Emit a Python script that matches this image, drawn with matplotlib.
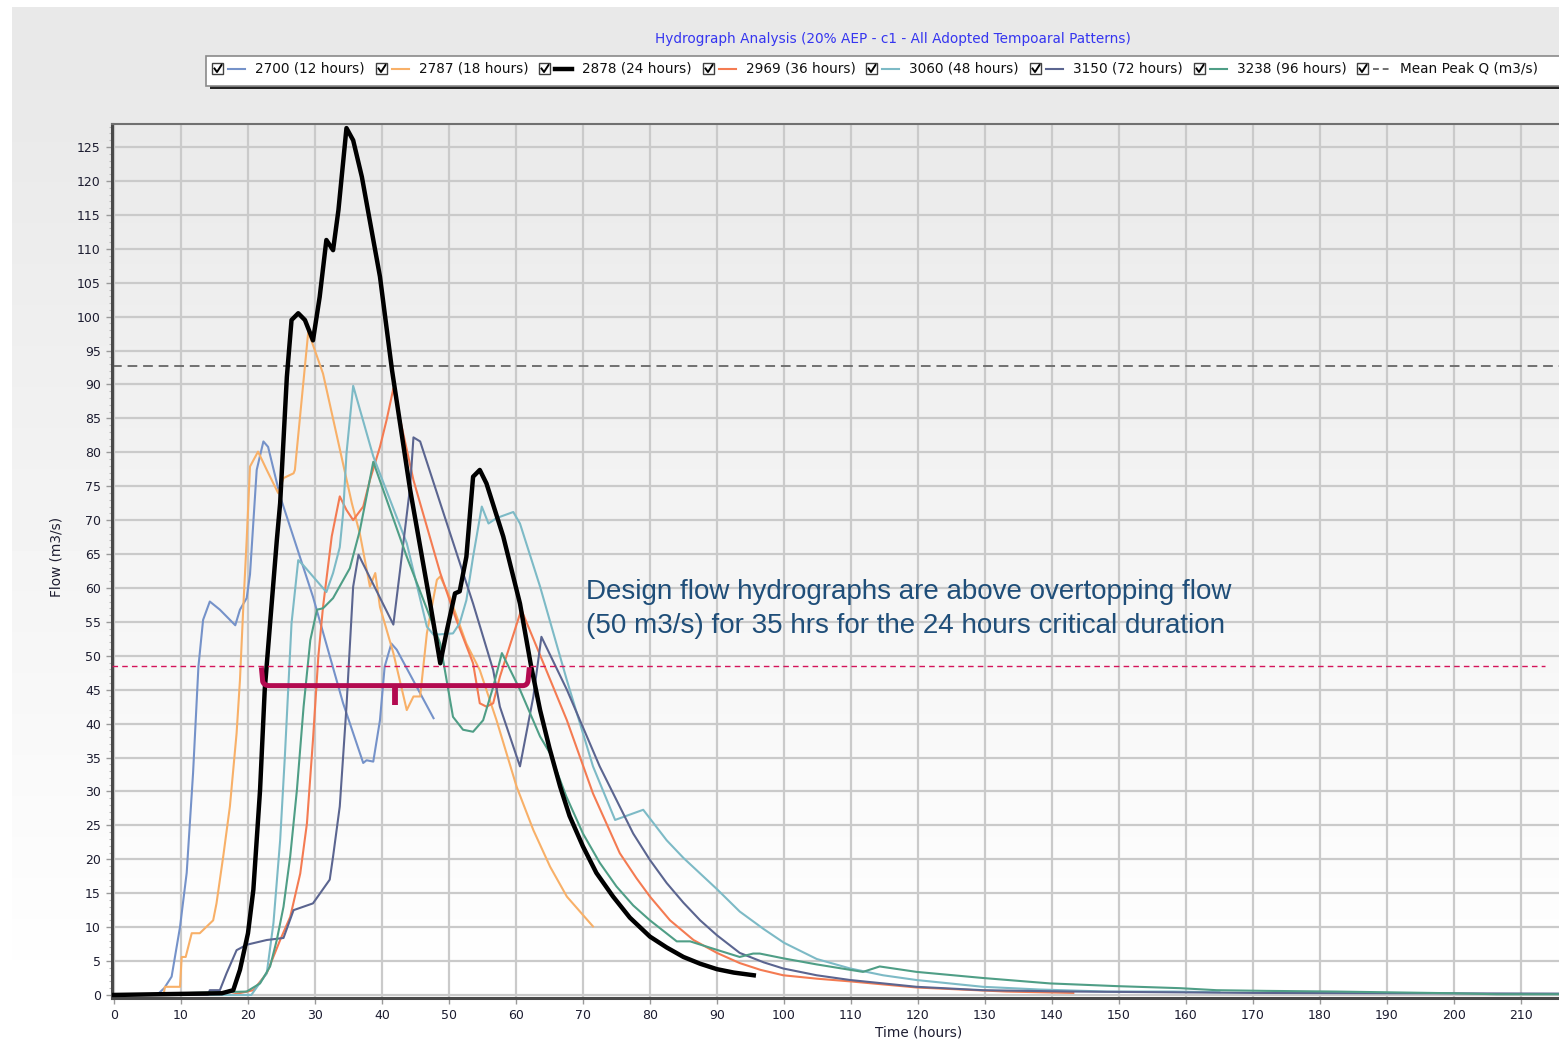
import numpy as np
import matplotlib
matplotlib.use("Agg")
import matplotlib.pyplot as plt
from matplotlib.patches import Rectangle, PathPatch
from matplotlib.path import Path
from matplotlib.lines import Line2D
from matplotlib.transforms import Affine2D
from matplotlib.ticker import MultipleLocator

W, H = 1559, 1047

# --- hydrograph data (time in hours, flow in m3/s) ---
t_12h = [0, 6.4, 7.5, 8.6, 9.85, 10.85, 11.8, 12.6, 13.3, 14.3, 15.8, 18.1, 18.8, 19.8, 20.3, 21.3,
         22.3, 23.0, 24.8, 29.7, 34.2, 37.2, 37.7, 38.7, 39.7, 40.4, 41.4, 42.2, 47.7]
q_12h = [0, 0, 1.0, 2.7, 10, 18, 32.7, 48.4, 55.3, 58, 56.8, 54.5, 56.8, 58.5, 62, 77.4,
         81.6, 80.8, 73.5, 58.7, 43, 34.2, 34.6, 34.4, 40.5, 48.4, 51.8, 50.9, 40.8]

t_18h = [0, 7.4, 7.6, 9.85, 10.1, 10.7, 11.6, 12.8, 14.8, 15.3, 16.3, 17.3, 18.3, 18.8, 19.3, 19.8,
         20.3, 21.5, 22.8, 24.5, 25.3, 26.8, 27.0, 29.0, 31.2, 35.5, 36.7, 38.2, 39.0, 39.7, 41.7,
         43.7, 44.7, 45.7, 46.7, 48.2, 48.7, 50.1, 52.6, 54.6, 57.1, 60.1, 62.6, 65.1, 67.6, 71.5]
q_18h = [0, 0, 1.2, 1.2, 5.6, 5.6, 9.1, 9.1, 11, 13.5, 20.4, 27.8, 38.6, 46.4, 57.2, 67,
         77.9, 80.1, 77.4, 74, 76.2, 76.9, 77.4, 97.8, 91.6, 72.5, 68, 60.2, 62.2, 57.2, 50.4,
         42, 44, 44, 53.3, 61.2, 61.7, 58.7, 51.8, 47.9, 40.5, 30.7, 24.3, 18.9, 14.5, 10.1]

t_24h = [0, 16.1, 17.8, 18.8, 20.0, 20.8, 21.8, 22.5, 23.3, 24.3, 24.8, 25.8, 26.5, 27.5, 28.5,
         29.7, 30.7, 31.7, 32.7, 33.5, 34.7, 35.7, 37.0, 39.7, 41.5, 44.2, 47.2, 48.7, 49.7, 50.9,
         51.6, 52.6, 53.6, 54.6, 55.6, 58.1, 60.6, 62.2, 63.6, 65.0, 66.6, 68.0, 70.0, 72.0, 74.5,
         77.0, 80, 82.5, 85, 87.5, 90, 92.5, 95.5]
q_24h = [0, 0.25, 0.7, 3.7, 9.1, 15.5, 30.2, 45, 54.8, 67, 72.5, 91.1, 99.5, 100.5, 99.5,
         96.5, 102.9, 111.3, 109.8, 115.7, 127.8, 126, 120.6, 105.9, 92.1, 74.5, 57.7, 48.9, 53.8, 59.2,
         59.5, 64.6, 76.4, 77.4, 75.4, 67.6, 57.7, 48.8, 42, 36.4, 30.7, 26.4, 21.9, 18.0, 14.5,
         11.4, 8.6, 7.0, 5.6, 4.6, 3.8, 3.3, 2.9]

t_36h = [0, 17.5, 20.8, 22.8, 24.8, 26.3, 27.8, 28.8, 29.7, 30.5, 31.2, 32.5, 33.7, 34.7, 35.7,
         37.2, 38.2, 39.7, 40.7, 41.7, 44.7, 48.7, 51.1, 53.6, 54.6, 55.6, 56.6, 57.6, 60.8, 63.6,
         67.6, 71.5, 75.5, 78.0, 80, 83.0, 86.5, 90.0, 93.4, 96.5, 99.9, 104.9, 109.9, 119.8,
         133.2, 143.2]
q_36h = [0, 0, 0.7, 3.2, 8.1, 11.5, 17.9, 25.3, 37.6, 49.9, 57.2, 67.6, 73.5, 71.5, 70,
         72, 75.9, 80.8, 84.8, 89.4, 75.9, 62.2, 55.3, 48.9, 43, 42.5, 43, 46.9, 56.8, 50.1,
         40.5, 29.7, 20.9, 17.2, 14.5, 11.0, 8.1, 6.2, 4.7, 3.7, 2.9, 2.4, 2.0, 1.1,
         0.5, 0.3]

t_48h = [0, 20.5, 22.8, 23.8, 24.8, 25.5, 26.0, 26.5, 27.5, 28.3, 31.7, 32.7, 33.7, 34.2, 34.7,
         35.7, 38.7, 43.7, 46.7, 47.7, 50.6, 51.6, 52.6, 53.6, 54.9, 55.9, 57.1, 59.6, 60.6, 63.6,
         67.6, 71.5, 74.8, 79.0, 82.5, 85.0, 87.5, 90.0, 93.4, 97.0, 100.0, 104.9, 109.9, 114.8,
         119.8, 129.7, 138.2, 148.2, 158.1, 165]
q_48h = [0, 0, 3.2, 10.6, 22.8, 35.1, 45, 54.8, 64.1, 63.3, 59.4, 62.2, 66, 71, 79.8,
         89.8, 79.4, 66.6, 54.3, 53.1, 53.3, 54.8, 58.2, 64.6, 72, 69.5, 70.3, 71.2, 69.5, 60.2,
         46.4, 33.7, 25.8, 27.3, 22.8, 20.2, 17.9, 15.6, 12.3, 9.7, 7.7, 5.3, 3.9, 2.9,
         2.2, 1.2, 0.8, 0.5, 0.5, 0.4]

t_72h = [0, 14.0, 14.3, 15.8, 16.8, 18.3, 19.8, 22.8, 25.3, 26.8, 29.7, 32.2, 32.7, 33.7, 34.7,
         35.7, 36.5, 41.7, 42.7, 44.2, 44.7, 45.7, 48.7, 53.6, 56.6, 57.6, 60.6, 62.6, 63.8, 67.6,
         72.5, 77.5, 80.0, 82.5, 85.0, 87.5, 90.0, 93.4, 97.0, 99.9, 104.9, 109.9, 119.8, 129.7,
         143.2, 170, 215.7]
q_72h = [0, 0, 0.7, 0.7, 3.2, 6.6, 7.4, 8.1, 8.4, 12.5, 13.5, 17, 20.4, 27.8, 42.5,
         60.2, 64.9, 54.6, 62.6, 74.9, 82.2, 81.6, 72.5, 57.7, 47.9, 42.5, 33.7, 44, 52.8, 45,
         33.7, 23.8, 19.9, 16.5, 13.6, 11.0, 8.8, 6.2, 4.8, 3.9, 2.9, 2.2, 1.2, 0.7,
         0.5, 0.3, 0.2]

t_96h = [0, 19.8, 21.8, 23.3, 24.3, 25.3, 26.3, 27.3, 28.3, 29.3, 30.3, 31.2, 32.7, 35.2, 36.7,
         37.7, 38.7, 43.7, 48.7, 50.6, 52.1, 53.6, 55.1, 56.6, 57.9, 60.6, 63.6, 65.1, 67.5, 70,
         72.5, 75, 77.5, 80, 84, 86, 89.5, 93.4, 95.4, 96.4, 99.9, 104.9, 109.9, 111.8, 114.3,
         119.8, 129.7, 139.7, 149.7, 159.1, 164.6, 172, 182.5, 199.9, 206.4, 215.7]
q_96h = [0, 0.5, 1.7, 4.2, 8.1, 13, 20.4, 30.2, 42.5, 52.3, 56.8, 57.0, 58.5, 62.9, 68.5,
         73.5, 78.6, 64.6, 51.8, 41, 39.1, 38.8, 40.5, 45.4, 50.4, 45, 38.1, 35.6, 29.3, 23.8,
         19.5, 16, 13.2, 11, 7.9, 7.9, 6.8, 5.6, 6.1, 6.1, 5.4, 4.5, 3.7, 3.4, 4.2,
         3.4, 2.5, 1.7, 1.3, 1.0, 0.7, 0.6, 0.5, 0.25, 0.1, 0.1]

mean_peak_q = 92.7
overtopping_q = 48.5

labels = ["2700 (12 hours)", "2787 (18 hours)", "2878 (24 hours)", "2969 (36 hours)",
          "3060 (48 hours)", "3150 (72 hours)", "3238 (96 hours)", "Mean Peak Q (m3/s)"]
colors = ["#7592c9", "#f8b068", "#000000", "#f47b52", "#7dbac6", "#5b6590", "#4f9e86", "#707070"]
widths = [1.5, 1.5, 3.2, 1.5, 1.5, 1.5, 1.5, 1.4]
series = [(t_12h, q_12h), (t_18h, q_18h), (t_24h, q_24h), (t_36h, q_36h),
          (t_48h, q_48h), (t_72h, q_72h), (t_96h, q_96h)]

fig = plt.figure(figsize=(W / 100, H / 100), dpi=100)
# pixel coordinates (origin top-left) -> figure
px = Affine2D().scale(1.0 / W, -1.0 / H).translate(0, 1) + fig.transFigure

# background: light grey fading to white
rows = np.arange(H)
shade = np.interp(rows, [0, 110, 1000, H], [0.91, 0.915, 1.0, 1.0])
bg = np.tile(shade[:, None], (1, W))
bg[:7, :] = 1.0
bg[:, :12] = 1.0
bg_ax = fig.add_axes([0, 0, 1, 1])
bg_ax.imshow(bg, cmap="gray", vmin=0, vmax=1, aspect="auto", interpolation="nearest")
bg_ax.axis("off")

ax = fig.add_axes([112 / W, 1 - 998 / H, 1 - 112 / W, (998 - 124) / H])
ax.set_facecolor("none")
ax.set_xlim(-0.3, 215.7)
ax.set_ylim(-0.45, 128.4)

for (t, q), c, lw in zip(series, colors, widths):
    z = 5 if c == "#000000" else 3
    ax.plot(t, q, color=c, lw=lw, zorder=z, solid_joinstyle="round")

ax.axhline(mean_peak_q, color=colors[7], lw=widths[7], ls=(0, (5, 3)), zorder=2)
ax.plot([-0.3, 213.6], [overtopping_q, overtopping_q], color="#d4145a", lw=1.0,
        ls=(0, (4, 3)), zorder=6)

# bracket marking time above overtopping flow
brace = Path([(22.0, 48.3), (22.2, 46.2), (22.4, 45.6), (23.2, 45.6),
              (61.0, 45.6), (61.7, 45.6), (61.8, 46.3), (62.0, 48.3)],
             [Path.MOVETO, Path.LINETO, Path.CURVE3, Path.CURVE3,
              Path.LINETO, Path.CURVE3, Path.CURVE3, Path.LINETO])
ax.add_patch(PathPatch(brace, fill=False, edgecolor="#b30a50", lw=3.6, zorder=7,
                       capstyle="butt", joinstyle="round"))
ax.plot([41.9, 41.9], [45.6, 42.7], color="#b30a50", lw=4.2, solid_capstyle="butt", zorder=7)

ax.text(70.5, 58.4, "Design flow hydrographs are above overtopping flow",
        fontsize=20, color="#1f4e79", family="Liberation Sans", va="baseline", zorder=8)
ax.text(70.5, 53.4, "(50 m3/s) for 35 hrs for the 24 hours critical duration",
        fontsize=20, color="#1f4e79", family="Liberation Sans", va="baseline", zorder=8)

ax.xaxis.set_major_locator(MultipleLocator(10))
ax.yaxis.set_major_locator(MultipleLocator(5))
ax.yaxis.set_minor_locator(MultipleLocator(1))
ax.tick_params(which="major", direction="out", length=4, width=1, color="#999999",
               labelsize=9, labelcolor="#1c1c30", pad=4)
ax.tick_params(axis="y", which="minor", direction="out", length=2.5, width=0.8, color="#bbbbbb")
ax.grid(True, which="major", color="#cacaca", lw=1.6)
ax.set_axisbelow(True)
ax.spines["right"].set_visible(False)
for s in ("left", "bottom"):
    ax.spines[s].set_color("#4a4a4a")
    ax.spines[s].set_linewidth(2.2)
ax.spines["top"].set_color("#707070")
ax.spines["top"].set_linewidth(1.5)

fig.text(919, 1033, "Time (hours)", transform=px, fontsize=9.8, color="#1c1c30",
         ha="center", va="center")
fig.text(57, 557, "Flow (m3/s)", transform=px, fontsize=9.8, color="#1c1c30",
         ha="center", va="center", rotation=90)

fig.text(893, 39, "Hydrograph Analysis (20% AEP - c1 - All Adopted Tempoaral Patterns)",
         transform=px, fontsize=9.8, color="#3535f0", ha="center", va="center")

# legend bar with check boxes
fig.patches.append(Rectangle((210, 60), 1400, 29, transform=px, facecolor="#252525",
                             edgecolor="none", zorder=1))
fig.patches.append(Rectangle((206, 56), 1400, 30, transform=px, facecolor="white",
                             edgecolor="#8a8a8a", lw=1.2, zorder=2))
box_x = [212, 376, 539, 703, 866, 1030, 1194, 1357]
for bx, lab, c, lw in zip(box_x, labels, colors, widths):
    fig.patches.append(Rectangle((bx, 63), 11, 11, transform=px, facecolor="white",
                                 edgecolor="#404040", lw=1, zorder=3))
    fig.lines.append(Line2D([bx + 2.5, bx + 5, bx + 9.5], [68.5, 72, 65], transform=px,
                            color="black", lw=1.4, zorder=4))
    ls = (0, (3, 2)) if lab.startswith("Mean") else "-"
    fig.lines.append(Line2D([bx + 16, bx + 33], [69, 69], transform=px, color=c,
                            lw=lw, ls=ls, zorder=4))
    fig.text(bx + 43, 69, lab, transform=px, fontsize=9.8, color="#111111",
             ha="left", va="center", zorder=4)

fig.savefig("out.png", dpi=100)
